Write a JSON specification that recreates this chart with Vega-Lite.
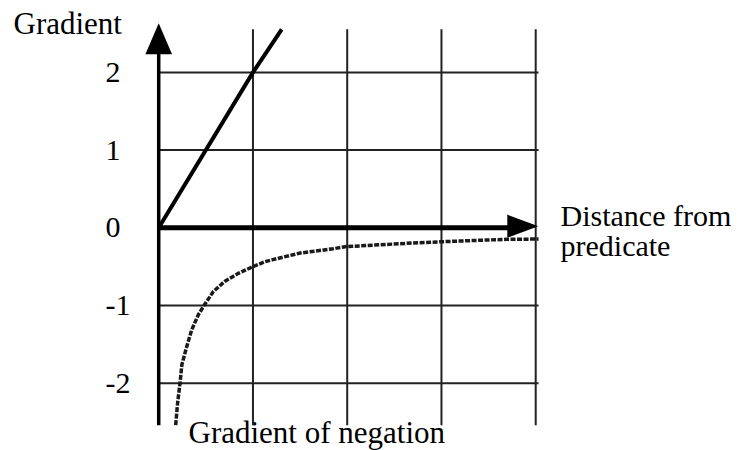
{
  "$schema": "https://vega.github.io/schema/vega-lite/v6.json",
  "width": 739,
  "height": 450,
  "autosize": {"type": "none"},
  "padding": 0,
  "background": "white",
  "config": {"view": {"stroke": null}, "font": "Liberation Serif"},
  "datasets": {
    "one": [{}],
    "vgrid": [{"x": 1}, {"x": 2}, {"x": 3}, {"x": 4}],
    "hgrid": [{"y": -2}, {"y": -1}, {"y": 1}, {"y": 2}],
    "gradient": [{"x": 0, "y": 0}, {"x": 1, "y": 2}, {"x": 1.305, "y": 2.555}],
    "negation": [
      {"x": 0.18, "y": -2.54}, {"x": 0.2, "y": -2.26}, {"x": 0.226, "y": -2.0},
      {"x": 0.246, "y": -1.76}, {"x": 0.297, "y": -1.53}, {"x": 0.35, "y": -1.315},
      {"x": 0.42, "y": -1.12}, {"x": 0.484, "y": -0.994}, {"x": 0.58, "y": -0.82},
      {"x": 0.7, "y": -0.69}, {"x": 0.845, "y": -0.586}, {"x": 1.0, "y": -0.5},
      {"x": 1.128, "y": -0.436}, {"x": 1.21, "y": -0.41}, {"x": 1.5, "y": -0.325},
      {"x": 1.85, "y": -0.27}, {"x": 1.98, "y": -0.243}, {"x": 2.63, "y": -0.2},
      {"x": 3.01, "y": -0.179}, {"x": 3.69, "y": -0.148}, {"x": 4.03, "y": -0.145}
    ]
  },
  "resolve": {"axis": {"x": "independent", "y": "independent"}},
  "layer": [
    {
      "data": {"name": "vgrid"},
      "mark": {"type": "rule", "color": "#222", "strokeWidth": 2},
      "encoding": {
        "x": {"field": "x", "type": "quantitative",
          "scale": {"domain": [-1.684, 6.157], "nice": false, "zero": false},
          "axis": {"orient": "bottom", "labels": false, "ticks": false, "domain": false, "grid": false,
            "title": "Gradient of negation", "titleX": 188, "titleY": -8, "titleAlign": "left",
            "titleBaseline": "alphabetic", "titleFont": "Liberation Serif", "titleFontSize": 31,
            "titleFontWeight": "normal", "titleColor": "black"}},
        "y": {"datum": -2.54, "type": "quantitative",
          "scale": {"domain": [-2.86, 2.932], "nice": false, "zero": false},
          "axis": {"orient": "left", "offset": -159, "values": [-2, -1, 0, 1, 2], "domain": false,
            "ticks": false, "grid": false, "labelAlign": "left", "labelPadding": 54,
            "labelExpr": "replace(datum.label, '\u2212', '-')",
            "labelBaseline": "middle", "labelFont": "Liberation Serif", "labelFontSize": 30,
            "labelColor": "black", "labelFlush": false, "labelOverlap": false,
            "title": "Gradient", "titleAngle": 0, "titleX": -146, "titleY": 33, "titleAlign": "left",
            "titleBaseline": "alphabetic", "titleFont": "Liberation Serif", "titleFontSize": 31,
            "titleFontWeight": "normal", "titleColor": "black"}},
        "y2": {"datum": 2.555}
      }
    },
    {
      "data": {"name": "hgrid"},
      "mark": {"type": "rule", "color": "#222", "strokeWidth": 2},
      "encoding": {
        "y": {"field": "y", "type": "quantitative",
          "scale": {"domain": [-2.86, 2.932], "nice": false, "zero": false}, "axis": null},
        "x": {"datum": 0, "type": "quantitative",
          "scale": {"domain": [-1.684, 6.157], "nice": false, "zero": false}, "axis": null},
        "x2": {"datum": 4.03}
      }
    },
    {
      "data": {"name": "one"},
      "mark": {"type": "rule", "color": "black", "strokeWidth": 5},
      "encoding": {
        "y": {"datum": 0, "type": "quantitative",
          "scale": {"domain": [-2.86, 2.932], "nice": false, "zero": false}, "axis": null},
        "x": {"datum": 0, "type": "quantitative",
          "scale": {"domain": [-1.684, 6.157], "nice": false, "zero": false}, "axis": null},
        "x2": {"datum": 3.8}
      }
    },
    {
      "data": {"name": "one"},
      "mark": {"type": "rule", "color": "black", "strokeWidth": 3.5},
      "encoding": {
        "x": {"datum": 0, "type": "quantitative",
          "scale": {"domain": [-1.684, 6.157], "nice": false, "zero": false}, "axis": null},
        "y": {"datum": -2.54, "type": "quantitative",
          "scale": {"domain": [-2.86, 2.932], "nice": false, "zero": false}, "axis": null},
        "y2": {"datum": 2.3}
      }
    },
    {
      "data": {"name": "one"},
      "mark": {"type": "point", "shape": "M0,-1L0.86,1L-0.86,1Z", "filled": true, "fill": "black",
        "strokeWidth": 0, "opacity": 1, "size": 961},
      "encoding": {
        "x": {"datum": 0, "type": "quantitative",
          "scale": {"domain": [-1.684, 6.157], "nice": false, "zero": false}, "axis": null},
        "y": {"datum": 2.432, "type": "quantitative",
          "scale": {"domain": [-2.86, 2.932], "nice": false, "zero": false}, "axis": null}
      }
    },
    {
      "data": {"name": "one"},
      "mark": {"type": "point", "shape": "M1,0L-1,-0.75L-1,0.75Z", "filled": true, "fill": "black",
        "strokeWidth": 0, "opacity": 1, "size": 961},
      "encoding": {
        "x": {"datum": 3.863, "type": "quantitative",
          "scale": {"domain": [-1.684, 6.157], "nice": false, "zero": false}, "axis": null},
        "y": {"datum": 0.02, "type": "quantitative",
          "scale": {"domain": [-2.86, 2.932], "nice": false, "zero": false}, "axis": null}
      }
    },
    {
      "data": {"name": "gradient"},
      "mark": {"type": "line", "color": "black", "strokeWidth": 4},
      "encoding": {
        "x": {"field": "x", "type": "quantitative",
          "scale": {"domain": [-1.684, 6.157], "nice": false, "zero": false},
          "axis": {"orient": "top", "labels": false, "ticks": false, "domain": false, "grid": false,
            "title": ["Distance from", "predicate"], "titleX": 560, "titleY": 225, "titleAlign": "left",
            "titleBaseline": "alphabetic", "titleLineHeight": 30, "titleFont": "Liberation Serif",
            "titleFontSize": 30, "titleFontWeight": "normal", "titleColor": "black"}},
        "y": {"field": "y", "type": "quantitative",
          "scale": {"domain": [-2.86, 2.932], "nice": false, "zero": false}, "axis": null}
      }
    },
    {
      "data": {"name": "negation"},
      "mark": {"type": "line", "color": "#1a1a1a", "strokeWidth": 3.5, "strokeDash": [5, 1.5]},
      "encoding": {
        "x": {"field": "x", "type": "quantitative",
          "scale": {"domain": [-1.684, 6.157], "nice": false, "zero": false}, "axis": null},
        "y": {"field": "y", "type": "quantitative",
          "scale": {"domain": [-2.86, 2.932], "nice": false, "zero": false}, "axis": null}
      }
    }
  ]
}
